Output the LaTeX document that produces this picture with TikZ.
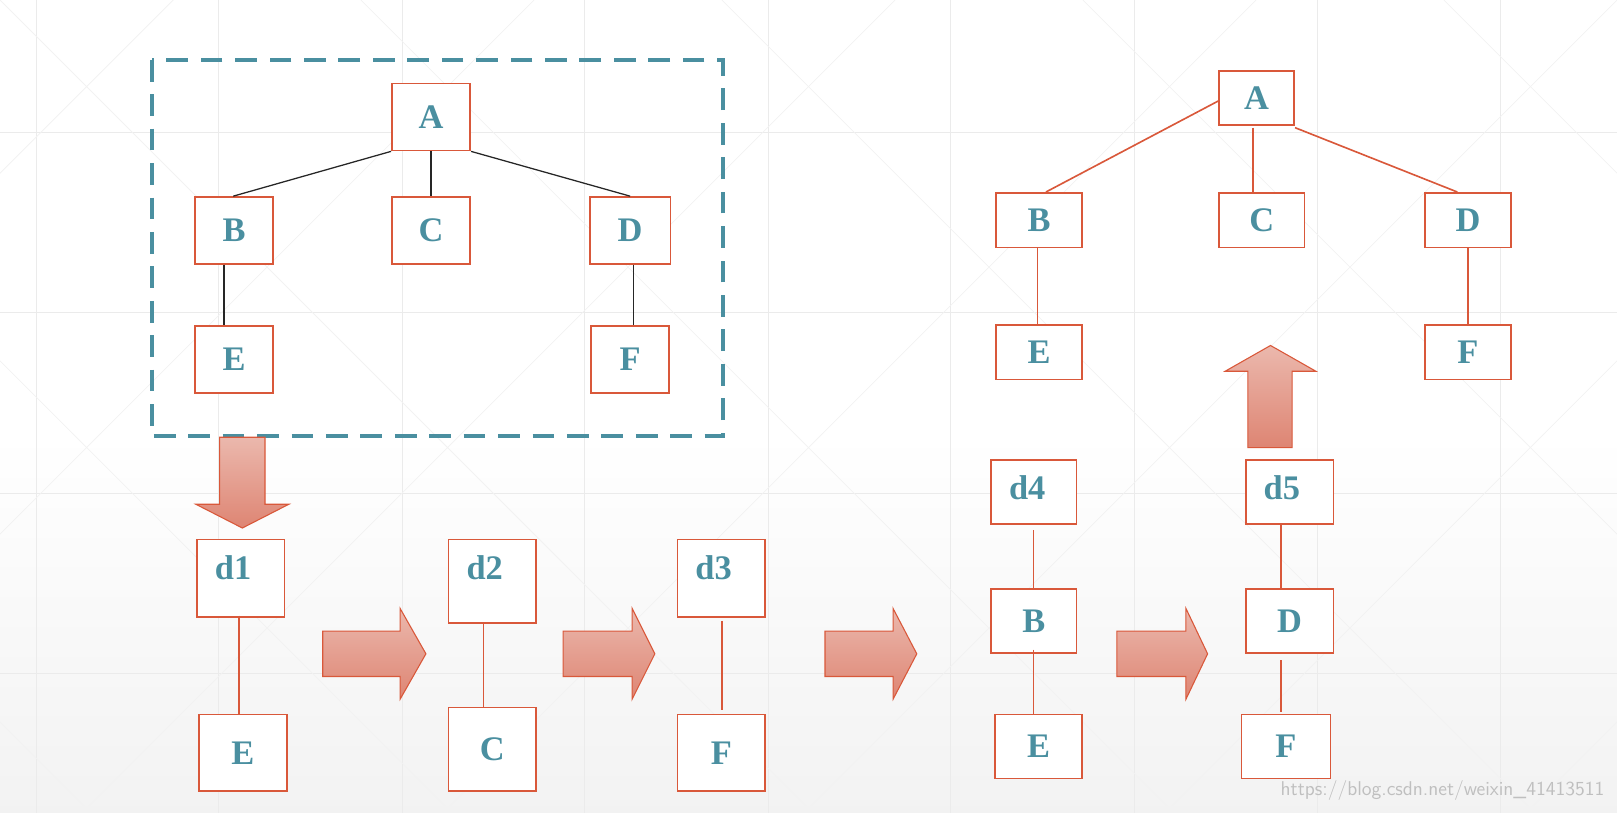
\documentclass[tikz,border=0pt]{standalone}
\usepackage{fontspec}
\setmainfont{Liberation Serif}
\usetikzlibrary{fit}
\definecolor{teal1}{HTML}{4A8FA0}
\definecolor{red1}{HTML}{D9583A}
\definecolor{pk1}{HTML}{EBB8AD}
\definecolor{pk2}{HTML}{DE8573}
\begin{document}
\begin{tikzpicture}[x=0.02cm,y=-0.02cm,
 box/.style={draw=red1,line width=0.9pt,fill=white,inner sep=0pt},
 t/.style={text=teal1,font=\fontsize{19}{21}\selectfont\bfseries},
 blk/.style={draw=black!85,line width=0.7pt},
 rl/.style={draw=red1,line width=0.9pt},
 arr/.style={draw=red1,line width=0.6pt,top color=pk1,bottom color=pk2}]
\useasboundingbox (0,0) rectangle (1568,788);
\shade[top color=white,bottom color=black!5] (0,420) rectangle (1568,788);
\foreach \x in {35,212,390,567,745,922,1100,1277,1455} \draw[black!8] (\x,0)--(\x,788);
\foreach \y in {128,303,478,653} \draw[black!8] (0,\y)--(1568,\y);
\foreach \x in {-1400,-1050,-700,-350,0,350,700,1050,1400} {
 \draw[black!5] (\x,0)--++(788,788);
 \draw[black!5] (\x+1568,0)--++(-788,788);}
\newcommand\bx[6]{\node[box,fit={(#2,#3) (#4,#5)}] (#1) {};\node[t] at (#1) {#6};}
\newcommand\dx[6]{\node[box,fit={(#2,#3) (#4,#5)}] (#1) {};\node[t,anchor=north west] at ([xshift=0.24cm,yshift=-0.2cm]#1.north west) {#6};}
% left tree
\draw[teal1,line width=2.2pt,dash pattern=on 12pt off 7pt] (147,58) rectangle (701,423);
\bx{A}{380}{81}{456}{146}{A}
\bx{B}{189}{191}{265}{256}{B}
\bx{C}{380}{191}{456}{256}{C}
\bx{D}{572}{191}{650}{256}{D}
\bx{E}{189}{316}{265}{381}{E}
\bx{F}{573}{316}{649}{381}{F}
\draw[blk] (A.south west)--([xshift=0.76cm]B.north west);
\draw[blk] (A.south)--(C.north);
\draw[blk] (A.south east)--(D.north);
\draw[blk] ([xshift=0.58cm]B.south west)--([xshift=0.58cm]E.north west);
\draw[blk] ([xshift=0.86cm]D.south west)--([xshift=0.84cm]F.north west);
% right tree
\bx{RA}{1182}{69}{1255}{121}{A}
\bx{RB}{966}{187}{1049}{240}{B}
\bx{RC}{1182}{187}{1265}{240}{C}
\bx{RD}{1382}{187}{1465}{240}{D}
\bx{RE}{966}{315}{1049}{368}{E}
\bx{RF}{1382}{315}{1465}{368}{F}
\draw[rl] ([yshift=-0.06cm]RA.west)--([xshift=0.98cm]RB.north west);
\draw[rl] ([xshift=0.68cm,yshift=-0.04cm]RA.south west)--([xshift=0.68cm]RC.north west);
\draw[rl] ([yshift=-0.04cm]RA.south east)--([xshift=0.64cm]RD.north west);
\draw[rl] ([xshift=0.82cm]RB.south west)--([xshift=0.82cm]RE.north west);
\draw[rl] (RD.south)--(RF.north);
% sequences
\dx{d1}{191}{523}{276}{598}{d1}
\bx{E1}{193}{693}{278}{767}{E}
\draw[rl] (232,597)--(232,693);
\dx{d2}{435}{523}{520}{604}{d2}
\bx{C2}{435}{686}{520}{767}{C}
\draw[rl] (469,604)--(469,686);
\dx{d3}{657}{523}{742}{598}{d3}
\bx{F3}{657}{693}{742}{767}{F}
\draw[rl] (700,602)--(700,688);
\dx{d4}{961}{446}{1044}{508}{d4}
\bx{B4}{961}{571}{1044}{633}{B}
\bx{E4}{965}{693}{1049}{755}{E}
\draw[rl] (1002,514)--(1002,571);
\draw[rl] (1002,630)--(1002,693);
\dx{d5}{1208}{446}{1293}{508}{d5}
\bx{D5}{1208}{571}{1293}{633}{D}
\bx{F5}{1204}{693}{1290}{755}{F}
\draw[rl] (1242,508)--(1242,571);
\draw[rl] (1242,640)--(1242,690);
% arrows
\draw[arr] (213,424)--(257,424)--(257,489)--(280,489)--(235,512)--(190,489)--(213,489)--cycle;
\draw[arr] (1210,434)--(1253,434)--(1253,360)--(1276,360)--(1232,335)--(1188,360)--(1210,360)--cycle;
\foreach \a/\b/\c in {313/388/413,546/613/635,800/866/889,1083/1150/1171}
 \draw[arr] (\a,612)--(\b,612)--(\b,590)--(\c,634)--(\b,678)--(\b,656)--(\a,656)--cycle;
\node[text=black!25,font=\fontsize{11}{12}\selectfont\sffamily,anchor=south east] at (1562,782) {https://blog.csdn.net/weixin\_41413511};
\end{tikzpicture}
\end{document}
